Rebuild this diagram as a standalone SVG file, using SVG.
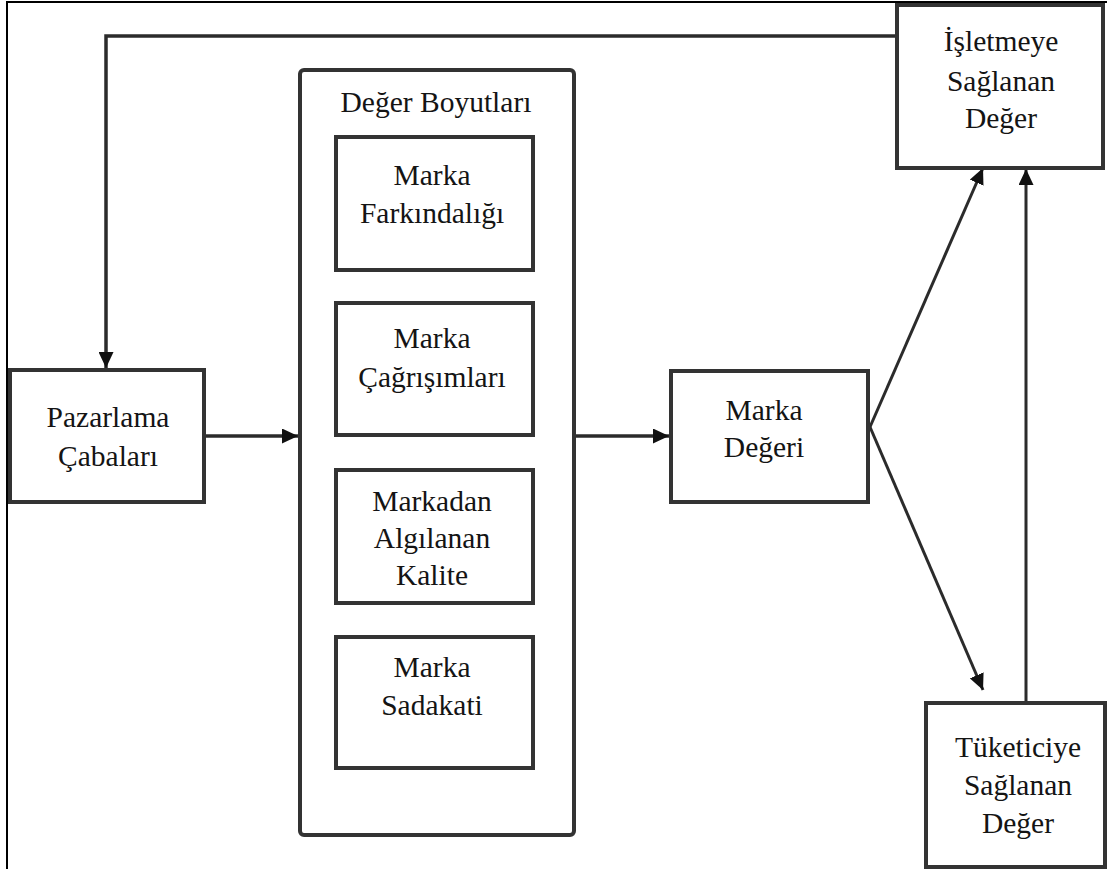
<svg xmlns="http://www.w3.org/2000/svg" width="1107" height="869" viewBox="0 0 1107 869">
<style>
.box{fill:#fff;stroke:#333;stroke-width:4}
.frame{fill:none;stroke:#000;stroke-width:2}
.con{fill:none;stroke:#2b2b2b;stroke-width:3.5}
.diag{fill:none;stroke:#2b2b2b;stroke-width:3}
.t{font-family:'Liberation Serif','Times New Roman',serif;font-size:29.5px;fill:#141414;text-anchor:middle}
</style>
<defs>
<marker id="arr" markerUnits="userSpaceOnUse" markerWidth="17" markerHeight="15" refX="16" refY="7.5" orient="auto">
<path d="M0,0 L16,7.5 L0,15 z" fill="#111"/>
</marker>
</defs>
<rect width="1107" height="869" fill="#fff"/>
<path class="frame" d="M7,869 V2 H1107"/>
<g id="connectors">
<path class="con" d="M897,36 H106 V368" marker-end="url(#arr)"/>
<path class="con" d="M204,436 H298" marker-end="url(#arr)"/>
<path class="con" d="M574,436 H669" marker-end="url(#arr)"/>
<path class="diag" d="M870,427 L983,168" marker-end="url(#arr)"/>
<path class="diag" d="M870,427 L983,690" marker-end="url(#arr)"/>
<path class="diag" d="M1026,703 V169" marker-end="url(#arr)"/>
</g>
<g id="pazarlama" class="t">
<rect class="box" x="10" y="370" width="194" height="132"/>
<text x="108" y="427">Pazarlama</text>
<text x="108" y="466">Çabaları</text>
</g>
<g id="deger-boyutlari" class="t">
<rect class="box" x="300" y="70" width="274" height="765" rx="4"/>
<text x="436" y="112">Değer Boyutları</text>
</g>
<g id="farkindalik" class="t">
<rect class="box" x="336" y="137" width="197" height="133"/>
<text x="432" y="185">Marka</text>
<text x="432" y="223">Farkındalığı</text>
</g>
<g id="cagrisimlar" class="t">
<rect class="box" x="336" y="303" width="197" height="132"/>
<text x="432" y="348">Marka</text>
<text x="432" y="387">Çağrışımları</text>
</g>
<g id="kalite" class="t">
<rect class="box" x="336" y="470" width="197" height="133"/>
<text x="432" y="511">Markadan</text>
<text x="432" y="548">Algılanan</text>
<text x="432" y="585">Kalite</text>
</g>
<g id="sadakat" class="t">
<rect class="box" x="336" y="637" width="197" height="131"/>
<text x="432" y="677">Marka</text>
<text x="432" y="715">Sadakati</text>
</g>
<g id="marka-degeri" class="t">
<rect class="box" x="671" y="371" width="197" height="131"/>
<text x="764" y="420">Marka</text>
<text x="764" y="457">Değeri</text>
</g>
<g id="isletme" class="t">
<rect class="box" x="897" y="5" width="206" height="163"/>
<text x="1001" y="51">İşletmeye</text>
<text x="1001" y="91">Sağlanan</text>
<text x="1001" y="128">Değer</text>
</g>
<g id="tuketici" class="t">
<rect class="box" x="926" y="703" width="179" height="164"/>
<text x="1018" y="757">Tüketiciye</text>
<text x="1018" y="795">Sağlanan</text>
<text x="1018" y="833">Değer</text>
</g>
</svg>
